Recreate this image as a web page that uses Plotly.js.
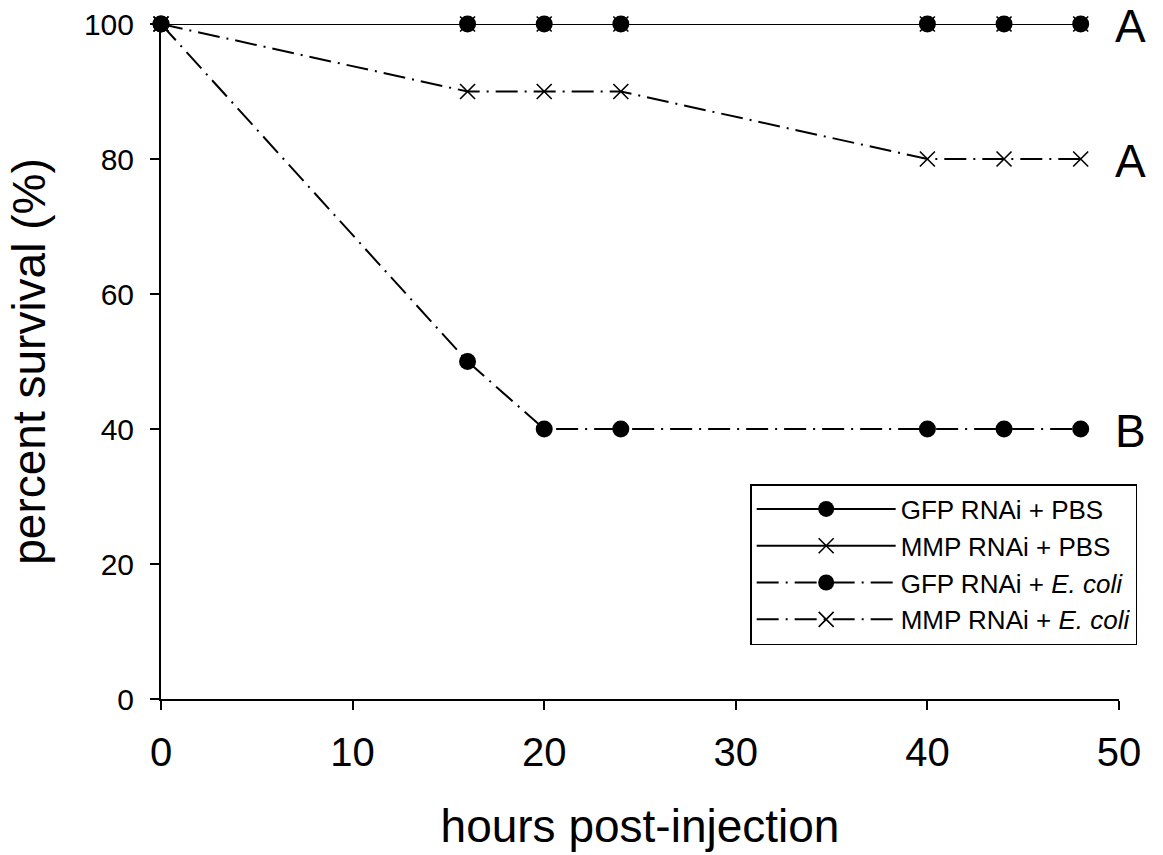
<!DOCTYPE html>
<html>
<head>
<meta charset="utf-8">
<script src="https://cdn.plot.ly/plotly-3.0.1.min.js"></script>
<style>html,body{margin:0;padding:0;background:#fff;}#chart{width:1163px;height:855px;}</style>
</head>
<body>
<div id="chart"></div>
<script>
// Data
var hours = [0, 16, 20, 24, 40, 44, 48];
var gfpPbs = [100, 100, 100, 100, 100, 100, 100];
var mmpPbs = [100, 100, 100, 100, 100, 100, 100];
var gfpEcoli = [100, 50, 40, 40, 40, 40, 40];
var mmpEcoli = [100, 90, 90, 90, 80, 80, 80];
var seriesNames = ['GFP RNAi + PBS', 'MMP RNAi + PBS', 'GFP RNAi + <i>E. coli</i>', 'MMP RNAi + <i>E. coli</i>'];
var groupLetters = ['A', 'A', 'B'];
var letterLevels = [100, 80, 40];
var xTicks = [0, 10, 20, 30, 40, 50];
var yTicks = [0, 20, 40, 60, 80, 100];

var dashdot = '22px,7px,2px,7px';
var circleMarker = {symbol: 'circle', size: 17, color: '#000'};
var xMarker = {symbol: 'x-thin-open', size: 15, color: '#000', line: {color: '#000', width: 1.6}};

var traces = [
  {x: hours, y: mmpPbs, name: seriesNames[1], mode: 'lines+markers', legendrank: 2,
   line: {color: '#000', width: 2, dash: 'solid'}, marker: xMarker, cliponaxis: false},
  {x: hours, y: gfpPbs, name: seriesNames[0], mode: 'lines+markers', legendrank: 1,
   line: {color: '#000', width: 2, dash: 'solid'}, marker: circleMarker, cliponaxis: false},
  {x: hours, y: gfpEcoli, name: seriesNames[2], mode: 'lines+markers', legendrank: 3,
   line: {color: '#000', width: 2, dash: dashdot}, marker: circleMarker, cliponaxis: false},
  {x: hours, y: mmpEcoli, name: seriesNames[3], mode: 'lines+markers', legendrank: 4,
   line: {color: '#000', width: 2, dash: dashdot}, marker: xMarker, cliponaxis: false}
];

var annotations = groupLetters.map(function (t, i) {
  return {x: hours[hours.length - 1], y: letterLevels[i], xref: 'x', yref: 'y', text: t,
    showarrow: false, xanchor: 'left', yanchor: 'middle', xshift: 32, yshift: -2,
    font: {family: 'Liberation Sans, Arial, sans-serif', size: 46, color: '#000'}};
});

var layout = {
  width: 1163, height: 855,
  margin: {l: 161, r: 44, t: 24, b: 156, pad: 0},
  paper_bgcolor: '#fff', plot_bgcolor: '#fff',
  font: {family: 'Liberation Sans, Arial, sans-serif', color: '#000'},
  showlegend: true,
  legend: {x: 0.615, y: 0.3185, xanchor: 'left', yanchor: 'top',
    bordercolor: '#000', borderwidth: 1.5, bgcolor: '#fff',
    font: {size: 26, color: '#000'}, itemwidth: 139, traceorder: 'normal'},
  xaxis: {range: [0, 50], tickvals: xTicks, ticktext: xTicks.map(String),
    showgrid: false, zeroline: false, showline: true, linecolor: '#000', linewidth: 2,
    ticks: 'outside', ticklen: 9, tickwidth: 2, tickcolor: '#000',
    tickfont: {size: 40}, ticklabelstandoff: 8,
    title: {text: 'hours post-injection', font: {size: 46}, standoff: 37}},
  yaxis: {range: [0, 100], tickvals: yTicks, ticktext: yTicks.map(String),
    showgrid: false, zeroline: false, showline: true, linecolor: '#000', linewidth: 2,
    ticks: 'outside', ticklen: 9, tickwidth: 2, tickcolor: '#000',
    tickfont: {size: 30}, ticklabelstandoff: 10,
    title: {text: 'percent survival (%)', font: {size: 46}, standoff: 24}},
  annotations: annotations
};

Plotly.newPlot('chart', traces, layout, {displayModeBar: false, staticPlot: true});
</script>
</body>
</html>
